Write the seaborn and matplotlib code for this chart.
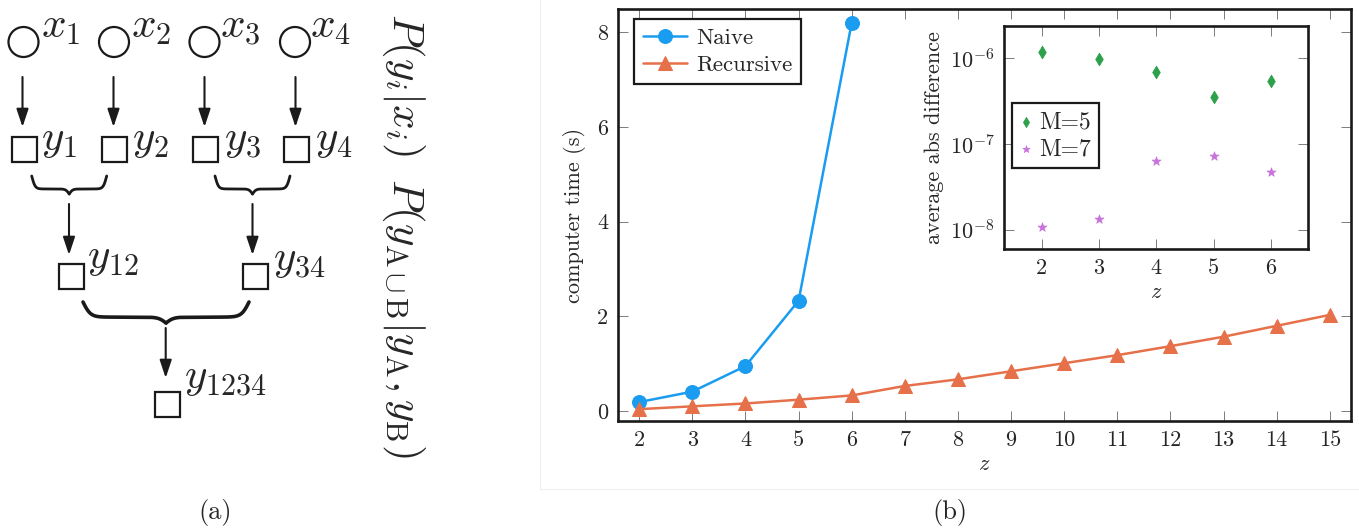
import numpy as np
import pandas as pd
import matplotlib
matplotlib.use("Agg")
import matplotlib.pyplot as plt
import seaborn as sns
from matplotlib.patches import Circle, Rectangle
from matplotlib.lines import Line2D
from matplotlib.ticker import LogLocator, NullLocator, FixedLocator

# ---------------- data ----------------
z_naive = [2, 3, 4, 5, 6]
t_naive = [0.19, 0.41, 0.95, 2.33, 8.2]
z_rec = [2, 3, 4, 5, 6, 7, 8, 9, 10, 11, 12, 13, 14, 15]
t_rec = [0.04, 0.10, 0.16, 0.24, 0.33, 0.53, 0.67, 0.84, 1.01, 1.18, 1.37, 1.57, 1.80, 2.03]
z_inset = [2, 3, 4, 5, 6]
diff_m5 = [1.17e-6, 0.99e-6, 6.9e-7, 3.5e-7, 5.4e-7]
diff_m7 = [1.08e-8, 1.34e-8, 6.4e-8, 7.3e-8, 4.7e-8]
main_xticks = list(range(2, 16))
main_yticks = [0, 2, 4, 6, 8]
inset_xticks = [2, 3, 4, 5, 6]

C_NAIVE = "#1a9cf0"
C_REC = "#e6704a"
C_M5 = "#2ca04a"
C_M7 = "#c872dc"

sns.set_theme(style="ticks")
plt.rcParams["font.family"] = ["cmr10", "DejaVu Serif"]
plt.rcParams["mathtext.fontset"] = "cm"
plt.rcParams["axes.formatter.use_mathtext"] = True
plt.rcParams["axes.unicode_minus"] = False

W, H = 1359, 529
fig = plt.figure(figsize=(W / 100, H / 100), dpi=100)


def fbox(x0, y0, x1, y1):
    """pixel box (top-left origin) -> figure fraction rect"""
    return [x0 / W, 1 - y1 / H, (x1 - x0) / W, (y1 - y0) / H]


# ---------------- (a) diagram ----------------
axd = fig.add_axes(fbox(0, 0, 540, 529))
axd.set_xlim(0, 540)
axd.set_ylim(529, 0)
axd.axis("off")

lw_node = 1.6
circ_x = [23.5, 114, 204.5, 295]
circ_y = 42
for cx in circ_x:
    axd.add_patch(Circle((cx, circ_y), 15, fill=False, lw=lw_node, ec="k"))

sq_x = [24, 114, 205.5, 296.5]
sq_y = 149
s = 25
for sx in sq_x:
    axd.add_patch(Rectangle((sx - s / 2, sq_y - s / 2), s, s, fill=False, lw=lw_node, ec="k"))
for sx in [71.5, 255.8]:
    axd.add_patch(Rectangle((sx - s / 2, 276 - s / 2), s, s, fill=False, lw=lw_node, ec="k"))
axd.add_patch(Rectangle((167.5 - s / 2, 404 - s / 2), s, s, fill=False, lw=lw_node, ec="k"))


def arrow(x, y0, y1):
    axd.annotate("", xy=(x, y1), xytext=(x, y0),
                 arrowprops=dict(arrowstyle="-|>,head_length=0.9,head_width=0.3",
                                 lw=1.5, color="k", shrinkA=0, shrinkB=0))


for ax_x in [22.5, 113.5, 204.5, 295.5]:
    arrow(ax_x, 77, 127)
arrow(69, 204, 255)
arrow(252.5, 204, 255)
arrow(165.7, 328, 378)


def brace(x0, x1, ytop, h, lw):
    sgm = lambda v: 1 / (1 + np.exp(-v))
    sv = np.linspace(0, 1, 200)
    b = 22
    f1 = 0.72
    yv = h * (f1 * (2 * sgm(b * sv) - 1) + (1 - f1) * 2 * sgm(b * (sv - 1)))
    xm = (x0 + x1) / 2
    xl = x0 + sv * (xm - x0)
    xr = x1 - sv * (x1 - xm)
    axd.plot(xl, ytop + yv, color="k", lw=lw, solid_capstyle="round")
    axd.plot(xr, ytop + yv, color="k", lw=lw, solid_capstyle="round")


brace(31.7, 106.7, 176, 18, 2.0)
brace(215, 290, 176, 18, 2.0)
brace(83, 249, 302, 21, 2.6)

fs_node = 31
xlab_x = [41, 131, 220, 310]
for i, lx in enumerate(xlab_x):
    axd.text(lx, 38, rf"$x_{i + 1}$", fontsize=fs_node, ha="left", va="baseline")
ylab_x = [41, 132, 224, 315]
for i, lx in enumerate(ylab_x):
    axd.text(lx, 150, rf"$y_{i + 1}$", fontsize=fs_node, ha="left", va="baseline")
axd.text(87, 268, r"$y_{12}$", fontsize=fs_node, ha="left", va="baseline")
axd.text(273, 270, r"$y_{34}$", fontsize=fs_node, ha="left", va="baseline")
axd.text(184, 388, r"$y_{1234}$", fontsize=fs_node, ha="left", va="baseline")

axd.text(403, 84, r"$P(y_i|x_i)$", fontsize=31, rotation=270, ha="center", va="center")
axd.text(403, 318, r"$P(y_{\mathrm{A}\cup \mathrm{B}}|y_\mathrm{A},y_\mathrm{B})$",
         fontsize=31, rotation=270, ha="center", va="center")
axd.text(215, 512, "(a)", fontsize=19, ha="center", va="center")

# faint panel separators
fig.add_artist(Line2D([540 / W, 540 / W], [1, 1 - 489 / H], color="#efefef", lw=0.8))
fig.add_artist(Line2D([540 / W, 1], [1 - 489 / H, 1 - 489 / H], color="#efefef", lw=0.8))
fig.text(950 / W, 1 - 512 / H, "(b)", fontsize=19, ha="center", va="center")

# ---------------- (b) main plot ----------------
ax = fig.add_axes(fbox(618, 9, 1351, 421))
df_n = pd.DataFrame({"z": z_naive, "t": t_naive})
df_r = pd.DataFrame({"z": z_rec, "t": t_rec})
sns.lineplot(data=df_n, x="z", y="t", ax=ax, color=C_NAIVE, marker="o", markersize=10,
             markeredgecolor=C_NAIVE, linewidth=1.8, label="Naive")
sns.lineplot(data=df_r, x="z", y="t", ax=ax, color=C_REC, marker="^", markersize=9.5,
             markeredgecolor=C_REC, linewidth=1.8, label="Recursive")
ax.set_xlim(1.6, 15.4)
ax.set_ylim(-0.21, 8.49)
ax.xaxis.set_major_locator(FixedLocator(main_xticks))
ax.yaxis.set_major_locator(FixedLocator(main_yticks))
ax.set_xticklabels([str(v) for v in main_xticks])
ax.set_yticklabels([str(v) for v in main_yticks])
ax.tick_params(direction="in", top=True, right=True, length=7, width=0.6,
               color="#666666", labelsize=16, pad=7)
for sp in ax.spines.values():
    sp.set_linewidth(1.9)
    sp.set_color("k")
ax.set_xlabel("$z$", fontsize=16, labelpad=3)
ax.set_ylabel("computer time (s)", fontsize=16, labelpad=8)
leg = ax.legend(loc="upper left", bbox_to_anchor=(0.022, 0.976), borderaxespad=0,
                fontsize=16.5, frameon=True, fancybox=False, edgecolor="k", framealpha=1,
                handlelength=1.9, handletextpad=0.4, labelspacing=0.3, borderpad=0.4)
leg.get_frame().set_linewidth(1.6)

# ---------------- inset ----------------
axi = fig.add_axes(fbox(1004.3, 25.7, 1308.3, 249))
df_5 = pd.DataFrame({"z": z_inset, "d": diff_m5})
df_7 = pd.DataFrame({"z": z_inset, "d": diff_m7})
sns.scatterplot(data=df_5, x="z", y="d", ax=axi, marker="d", s=42, color=C_M5,
                edgecolor=C_M5, label="M=5")
sns.scatterplot(data=df_7, x="z", y="d", ax=axi, marker="*", s=45, color=C_M7,
                edgecolor=C_M7, label="M=7")
axi.set_yscale("log")
axi.set_xlim(1.35, 6.65)
axi.set_ylim(10 ** -8.225, 10 ** -5.62)
axi.xaxis.set_major_locator(FixedLocator(inset_xticks))
axi.set_xticklabels([str(v) for v in inset_xticks])
axi.yaxis.set_major_locator(LogLocator(base=10, numticks=10))
axi.yaxis.set_minor_locator(NullLocator())
axi.tick_params(direction="in", top=True, right=True, length=7, width=0.6,
                color="#666666", labelsize=16, pad=7)
for sp in axi.spines.values():
    sp.set_linewidth(1.9)
    sp.set_color("k")
axi.set_xlabel("$z$", fontsize=16, labelpad=3)
axi.set_ylabel("average abs difference", fontsize=16, labelpad=4)
legi = axi.legend(loc="upper left", bbox_to_anchor=(0.024, 0.654), borderaxespad=0,
                  fontsize=17, frameon=True, fancybox=False, edgecolor="k", framealpha=1,
                  handlelength=0.5, handletextpad=0.3, labelspacing=0.2, borderpad=0.35,
                  markerscale=0.8)
legi.get_frame().set_linewidth(1.6)

fig.savefig("out.png", dpi=100)
